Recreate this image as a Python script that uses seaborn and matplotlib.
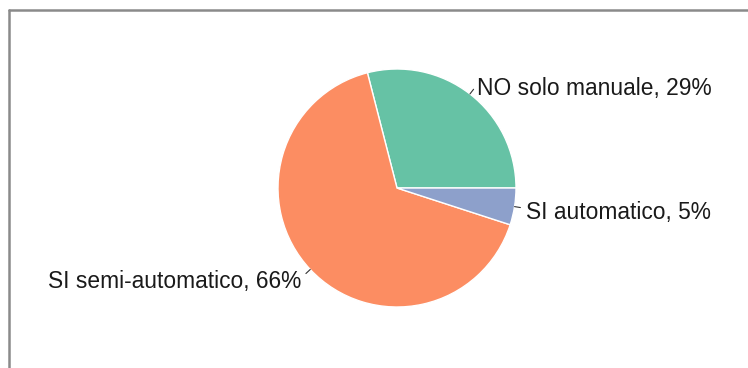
import numpy as np
import matplotlib
matplotlib.use("Agg")
import matplotlib.pyplot as plt
from matplotlib.lines import Line2D
import seaborn as sns

sns.set_theme(style="white")
plt.rcParams["font.family"] = ["Liberation Sans", "DejaVu Sans"]

categories = ["NO solo manuale", "SI semi-automatico", "SI automatico"]
shares = [29, 66, 5]

W, H = 748, 368
fig = plt.figure(figsize=(W / 100, H / 100), dpi=100)

# pie centre and radius in pixels
cx, cy, r = 397, 188, 119
lim = 1.5
side = 2 * r * lim
ax = fig.add_axes([(cx - side / 2) / W, (H - cy - side / 2) / H, side / W, side / H])

colors = sns.color_palette("Set2", 3)
wedges, _ = ax.pie(shares, colors=colors, startangle=0, counterclock=True,
                   radius=1.0, center=(0, 0), frame=True,
                   wedgeprops=dict(edgecolor="white", linewidth=1))
ax.set_xlim(-lim, lim)
ax.set_ylim(-lim, lim)
ax.set_aspect("equal")
ax.axis("off")

# labels sit slightly below the leader-line tip
text_drop = 0.03
for w, name, val in zip(wedges, categories, shares):
    mid = np.deg2rad((w.theta1 + w.theta2) / 2)
    c, s = np.cos(mid), np.sin(mid)
    ax.plot([c * 1.0, c * 1.05], [s * 1.0, s * 1.05], color="#333333", lw=0.8,
            clip_on=False)
    ha = "left" if c >= 0 else "right"
    ax.text(c * 1.1, s * 1.1 - text_drop, f"{name}, {val}%", ha=ha, va="center",
            fontsize=16.4, color="#1a1a1a", clip_on=False)

# frame lines along the left and top edges
fig.add_artist(Line2D([8.5 / W, 8.5 / W], [0, 1 - 10 / H], transform=fig.transFigure,
                      color="#8a8a8a", lw=1.8))
fig.add_artist(Line2D([8.5 / W, 1], [1 - 10 / H, 1 - 10 / H], transform=fig.transFigure,
                      color="#8a8a8a", lw=1.8))

fig.savefig("out.png", dpi=100, facecolor="white")
